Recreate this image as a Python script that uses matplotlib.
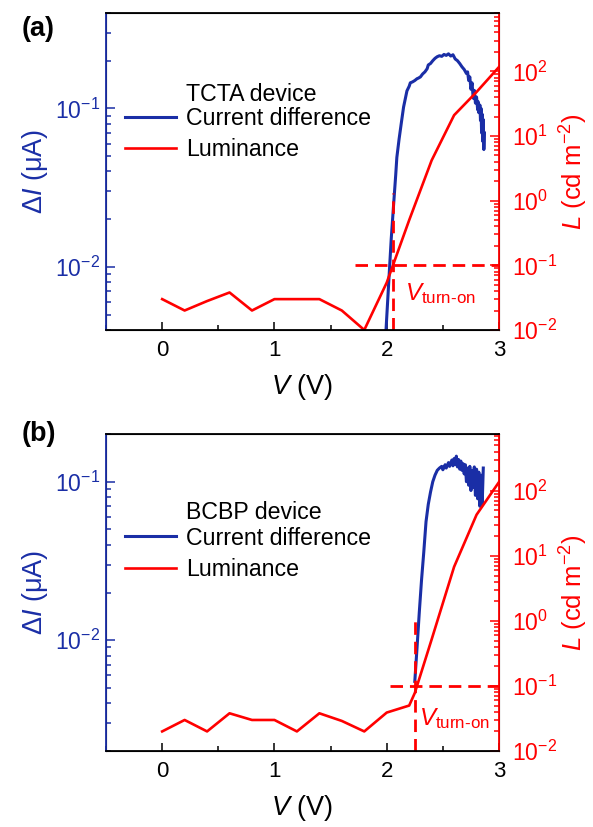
import numpy as np
import matplotlib
matplotlib.use('Agg')
import matplotlib.pyplot as plt
from matplotlib.ticker import MultipleLocator, LogLocator, NullFormatter

plt.rcParams['font.family'] = ['Liberation Sans', 'DejaVu Sans']
plt.rcParams['mathtext.fontset'] = 'custom'
plt.rcParams['mathtext.rm'] = 'Liberation Sans'
plt.rcParams['mathtext.it'] = 'Liberation Sans:italic'
plt.rcParams['mathtext.bf'] = 'Liberation Sans:bold'

BLUE = '#1a2ea6'
RED = '#ff0000'

# ---- luminance (right axis), both devices
v_lum_a = [0, 0.2, 0.4, 0.6, 0.8, 1.0, 1.2, 1.4, 1.6, 1.8, 2.0, 2.2, 2.4, 2.6, 2.8, 3.0]
lum_a = [0.03, 0.02, 0.028, 0.038, 0.02, 0.03, 0.03, 0.03, 0.02, 0.01, 0.054, 0.5, 4.2, 21, 48, 117]

v_lum_b = [0, 0.2, 0.4, 0.6, 0.8, 1.0, 1.2, 1.4, 1.6, 1.8, 2.0, 2.2, 2.25, 2.4, 2.6, 2.8, 3.0]
lum_b = [0.02, 0.03, 0.02, 0.038, 0.03, 0.03, 0.02, 0.038, 0.029, 0.02, 0.039, 0.05, 0.078, 0.52, 6.8, 43, 137]

# ---- current difference (left axis)
v_cur_a = [1.99, 2.00, 2.02, 2.04, 2.06, 2.08, 2.09, 2.11, 2.13, 2.15, 2.18, 2.20, 2.21, 2.23,
           2.25, 2.27, 2.28, 2.30, 2.32, 2.34, 2.36, 2.37, 2.39, 2.41, 2.43, 2.45, 2.47, 2.49,
           2.51, 2.53, 2.55, 2.57, 2.59, 2.61, 2.63, 2.65, 2.67, 2.69, 2.71, 2.72, 2.73, 2.74,
           2.75, 2.76, 2.77, 2.78, 2.79, 2.80, 2.81, 2.815, 2.82, 2.83, 2.835, 2.84, 2.845,
           2.85, 2.855, 2.86, 2.865, 2.87]
cur_a = [0.0036, 0.0048, 0.0085, 0.015, 0.024, 0.038, 0.049, 0.064, 0.081, 0.102, 0.129, 0.138,
         0.145, 0.147, 0.150, 0.154, 0.155, 0.158, 0.165, 0.170, 0.178, 0.188, 0.192, 0.200,
         0.207, 0.212, 0.215, 0.213, 0.219, 0.216, 0.221, 0.214, 0.218, 0.205, 0.200, 0.192,
         0.183, 0.176, 0.166, 0.170, 0.150, 0.158, 0.132, 0.145, 0.116, 0.130, 0.108, 0.118,
         0.098, 0.110, 0.094, 0.105, 0.084, 0.100, 0.070, 0.092, 0.062, 0.085, 0.055, 0.070]

v_cur_b = [2.25, 2.27, 2.29, 2.31, 2.33, 2.34, 2.35, 2.37, 2.39, 2.41, 2.43, 2.45, 2.47, 2.49,
           2.50, 2.52, 2.53, 2.55, 2.56, 2.58, 2.59, 2.60, 2.61, 2.62, 2.63, 2.64, 2.65, 2.66,
           2.67, 2.68, 2.69, 2.70, 2.71, 2.72, 2.73, 2.74, 2.75, 2.76, 2.77, 2.78, 2.79, 2.80,
           2.81, 2.82, 2.83, 2.84, 2.85, 2.86]
cur_b = [0.0055, 0.009, 0.015, 0.024, 0.036, 0.045, 0.056, 0.072, 0.086, 0.100, 0.110, 0.118,
         0.122, 0.125, 0.119, 0.128, 0.122, 0.132, 0.125, 0.137, 0.126, 0.140, 0.128, 0.145,
         0.124, 0.138, 0.120, 0.135, 0.118, 0.130, 0.112, 0.128, 0.100, 0.122, 0.095, 0.125,
         0.088, 0.118, 0.092, 0.124, 0.082, 0.120, 0.078, 0.115, 0.070, 0.110, 0.072, 0.122]

# turn-on markers
turn_on_l = 0.1
turn_on_v = [2.06, 2.25]
turn_on_top = [1.3, 1.1]
hline_start = [1.72, 2.03]
text_pos = [(2.165, 0.029), (2.29, 0.025)]

panels = [
    dict(tag='(a)', device='TCTA device', v_cur=v_cur_a, cur=cur_a, v_lum=v_lum_a, lum=lum_a,
         ylim=(0.004, 0.4), rlim=(0.01, 800)),
    dict(tag='(b)', device='BCBP device', v_cur=v_cur_b, cur=cur_b, v_lum=v_lum_b, lum=lum_b,
         ylim=(0.002, 0.2), rlim=(0.01, 750)),
]

fig = plt.figure(figsize=(5.93, 8.27), dpi=100)
axes_pos = [[0.1788, 0.6010, 0.6627, 0.3833], [0.1788, 0.0919, 0.6627, 0.3833]]
tag_y = [1 - 29 / 827., 1 - 434 / 827.]
title_y = [0.742, 0.752]
legend_y = [0.703, 0.708]

for i, p in enumerate(panels):
    ax = fig.add_axes(axes_pos[i])
    ax2 = ax.twinx()

    hb, = ax.plot(p['v_cur'], p['cur'], color=BLUE, lw=2.2, label='Current difference')
    ax.set_yscale('log')
    ax.set_ylim(*p['ylim'])
    ax.set_xlim(-0.5, 3)

    hr, = ax2.plot(p['v_lum'], p['lum'], color=RED, lw=1.9, label='Luminance')
    ax2.set_yscale('log')
    ax2.set_ylim(*p['rlim'])

    # turn-on guide lines
    ax2.plot([turn_on_v[i], turn_on_v[i]], [p['rlim'][0], turn_on_top[i]], color=RED, lw=2,
             dashes=(4.5, 2.5))
    ax2.plot([hline_start[i], 3.0], [turn_on_l, turn_on_l], color=RED, lw=2, dashes=(4.5, 2.5))
    ax2.text(text_pos[i][0], text_pos[i][1], r'$V_{\mathrm{turn\text{-}on}}$', color=RED,
             fontsize=17.5, va='baseline', ha='left')

    # spines
    for sp in ['top', 'bottom']:
        ax2.spines[sp].set_color('black')
        ax2.spines[sp].set_linewidth(1.3)
    ax2.spines['left'].set_color(BLUE)
    ax2.spines['right'].set_color(RED)
    ax2.spines['left'].set_linewidth(1.3)
    ax2.spines['right'].set_linewidth(1.3)

    ax.xaxis.set_major_locator(MultipleLocator(1))
    ax.xaxis.set_minor_locator(MultipleLocator(0.5))
    ax.tick_params(axis='x', which='both', direction='in', labelsize=16, pad=7)
    ax.tick_params(axis='x', which='major', length=6, width=1.1)
    ax.tick_params(axis='x', which='minor', length=3.5, width=1.1)

    ax.yaxis.set_minor_locator(LogLocator(base=10, subs=np.arange(2, 10) * 1.0, numticks=20))
    ax.yaxis.set_minor_formatter(NullFormatter())
    ax.tick_params(axis='y', which='both', direction='in', colors=BLUE, labelsize=16.5, pad=4)
    ax.tick_params(axis='y', which='major', length=6.5, width=1.1)
    ax.tick_params(axis='y', which='minor', length=3.5, width=1.1)

    ax2.yaxis.set_minor_locator(LogLocator(base=10, subs=np.arange(2, 10) * 1.0, numticks=20))
    ax2.yaxis.set_minor_formatter(NullFormatter())
    ax2.tick_params(axis='y', which='both', direction='in', colors=RED, labelsize=16.5, pad=9)
    ax2.tick_params(axis='y', which='major', length=6.5, width=1.1)
    ax2.tick_params(axis='y', which='minor', length=3.5, width=1.1)

    ax.set_xlabel(r'$V$ (V)', fontsize=19.5, labelpad=8)
    ax.set_ylabel(r'$\mathit{\Delta I}$ (μA)', fontsize=19.5, color=BLUE, labelpad=4)
    ax2.set_ylabel(r'$L$ (cd m$^{-2}$)', fontsize=18.5, color=RED, labelpad=1)

    # legend with device name on top
    ax2.text(0.204, title_y[i], p['device'], transform=ax2.transAxes, fontsize=16.7,
             va='center', ha='left')
    ax2.legend(handles=[hb, hr], loc='upper left', bbox_to_anchor=(0.048, legend_y[i]),
               frameon=False, fontsize=16.7, handlelength=2.2, handletextpad=0.45,
               labelspacing=0.36, borderpad=0, borderaxespad=0)

    fig.text(22 / 593., tag_y[i], p['tag'], fontsize=19.5, fontweight='bold', va='center', ha='left')

fig.savefig('out.png', dpi=100)
